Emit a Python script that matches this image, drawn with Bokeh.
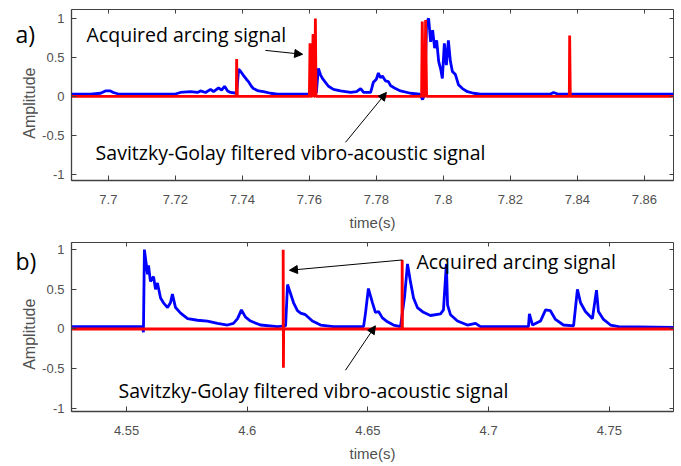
import math
from bokeh.plotting import figure
from bokeh.layouts import column, row
from bokeh.models import Range1d, FixedTicker, LinearAxis, Label, Arrow, NormalHead
from bokeh.embed import file_html
from bokeh.resources import INLINE

# ---------------- data: panel a) ----------------
a_blue_t = [7.6890, 7.6947, 7.6977, 7.6991, 7.7006, 7.7015, 7.7030, 7.7200, 7.7215, 7.7245,
            7.7266, 7.7275, 7.7290, 7.7305, 7.7314, 7.7329, 7.7338, 7.7347, 7.7356, 7.7365,
            7.7383, 7.7389, 7.7395, 7.7403, 7.7412, 7.7418, 7.7427, 7.7433, 7.7448, 7.7463,
            7.7484, 7.7505, 7.7589, 7.7609, 7.7621, 7.7627, 7.7633, 7.7639, 7.7648, 7.7657,
            7.7672, 7.7693, 7.7723, 7.7741, 7.7753, 7.7762, 7.7783, 7.7791, 7.7800, 7.7806,
            7.7812, 7.7818, 7.7827, 7.7836, 7.7842, 7.7857, 7.7872, 7.7902, 7.7929, 7.7938,
            7.7944, 7.7950, 7.7956, 7.7962, 7.7968, 7.7974, 7.7980, 7.7986, 7.7992, 7.7997,
            7.8003, 7.8009, 7.8015, 7.8021, 7.8027, 7.8036, 7.8045, 7.8057, 7.8072, 7.8090,
            7.8111, 7.8320, 7.8329, 7.8341, 7.8687]
a_blue_v = [0.03, 0.03, 0.04, 0.07, 0.07, 0.05, 0.03, 0.03, 0.05, 0.06,
            0.05, 0.07, 0.05, 0.09, 0.06, 0.11, 0.08, 0.13, 0.07, 0.05,
            0.04, 0.35, 0.32, 0.27, 0.22, 0.19, 0.13, 0.10, 0.07, 0.06,
            0.04, 0.03, 0.03, 0.03, 0.05, 0.36, 0.28, 0.23, 0.18, 0.13,
            0.09, 0.07, 0.05, 0.06, 0.10, 0.05, 0.05, 0.18, 0.22, 0.30,
            0.24, 0.26, 0.20, 0.19, 0.14, 0.10, 0.07, 0.04, 0.03, -0.04,
            0.02, 0.95, 1.00, 0.70, 0.85, 0.62, 0.72, 0.45, 0.35, 0.23,
            0.68, 0.40, 0.72, 0.45, 0.32, 0.28, 0.15, 0.10, 0.06, 0.04,
            0.03, 0.03, 0.05, 0.03, 0.03]
a_red_t = [7.6890, 7.7382, 7.7383, 7.7385, 7.7600, 7.7602, 7.7604, 7.7608, 7.7611, 7.7614,
           7.7616, 7.7618, 7.7620, 7.7935, 7.7937, 7.7940, 7.7945, 7.7947, 7.7950, 7.8376,
           7.8377, 7.8379, 7.8687]
a_red_v = [0.0, 0.0, 0.48, 0.0, 0.0, 0.68, 0.0, 0.0, 0.80, 0.0,
           0.0, 1.00, 0.0, 0.0, 0.96, 0.0, 0.0, 0.98, 0.0, 0.0,
           0.78, 0.0, 0.0]
a_ticks = [7.70, 7.72, 7.74, 7.76, 7.78, 7.80, 7.82, 7.84, 7.86]
a_tick_labels = ["7.7", "7.72", "7.74", "7.76", "7.78", "7.8", "7.82", "7.84", "7.86"]

# ---------------- data: panel b) ----------------
b_blue_t = [4.5272, 4.5566, 4.5570, 4.5574, 4.5587, 4.5591, 4.5599, 4.5612, 4.5620, 4.5628,
            4.5641, 4.5653, 4.5670, 4.5682, 4.5690, 4.5703, 4.5724, 4.5753, 4.5794, 4.5835,
            4.5877, 4.5918, 4.5943, 4.5960, 4.5976, 4.5993, 4.6014, 4.6055, 4.6125, 4.6159,
            4.6167, 4.6179, 4.6192, 4.6208, 4.6221, 4.6241, 4.6270, 4.6304, 4.6357, 4.6482,
            4.6490, 4.6502, 4.6519, 4.6531, 4.6544, 4.6560, 4.6581, 4.6606, 4.6635, 4.6652,
            4.6664, 4.6676, 4.6689, 4.6705, 4.6730, 4.6759, 4.6801, 4.6813, 4.6825, 4.6830,
            4.6842, 4.6871, 4.6912, 4.6946, 4.6966, 4.7165, 4.7169, 4.7182, 4.7215, 4.7236,
            4.7256, 4.7277, 4.7310, 4.7352, 4.7368, 4.7381, 4.7401, 4.7430, 4.7447, 4.7455,
            4.7476, 4.7505, 4.7539, 4.7766]
b_blue_v = [0.03, 0.03, -0.04, 1.00, 0.69, 0.80, 0.60, 0.66, 0.50, 0.58,
            0.39, 0.33, 0.27, 0.33, 0.44, 0.27, 0.20, 0.13, 0.11, 0.10,
            0.07, 0.05, 0.07, 0.13, 0.24, 0.15, 0.10, 0.05, 0.03, 0.04,
            0.56, 0.45, 0.33, 0.23, 0.20, 0.18, 0.10, 0.05, 0.03, 0.03,
            0.20, 0.51, 0.33, 0.21, 0.22, 0.14, 0.09, 0.05, 0.03, 0.41,
            0.82, 0.60, 0.39, 0.27, 0.21, 0.17, 0.19, 0.24, 0.82, 0.30,
            0.18, 0.10, 0.05, 0.07, 0.03, 0.03, 0.19, 0.05, 0.10, 0.24,
            0.23, 0.12, 0.05, 0.04, 0.50, 0.33, 0.22, 0.13, 0.49, 0.22,
            0.12, 0.05, 0.03, 0.02]
b_red_t = [4.5272, 4.6149, 4.6149, 4.6150, 4.6151, 4.6641, 4.6642, 4.6643, 4.7766]
b_red_v = [0.0, 0.0, 1.00, -0.49, 0.0, 0.0, 0.87, 0.0, 0.0]
b_ticks = [4.55, 4.60, 4.65, 4.70, 4.75]
b_tick_labels = ["4.55", "4.6", "4.65", "4.7", "4.75"]

y_ticks = [-1.0, -0.5, 0.0, 0.5, 1.0]
y_tick_labels = ["-1", "-0.5", "0", "0.5", "1"]

AX = "#404040"
TXT = "#505050"
ANN_FONT = "Open Sans"
SIDE_W = 38      # narrow strip on the left holding the panel tag and y title
H = 233
YTITLE_SHIFT = 33    # compensation for the observed upward drift of the rotated title


def make_panel(xr, yr, bt, bv, rt, rv, xt, xl, border_top, border_bottom):
    p = figure(width=681 - SIDE_W, height=H, x_range=Range1d(*xr), y_range=Range1d(*yr),
               output_backend="svg", toolbar_location=None,
               min_border_left=71 - SIDE_W, min_border_right=8,
               min_border_top=border_top, min_border_bottom=border_bottom)
    p.grid.visible = False
    p.outline_line_color = AX
    p.outline_line_width = 1
    p.line(bt, bv, line_color="#0000ff", line_width=2.8)
    p.line(rt, rv, line_color="#ff0000", line_width=2.8)

    p.xaxis.ticker = FixedTicker(ticks=xt)
    p.xaxis.major_label_overrides = {t: l for t, l in zip(xt, xl)}
    p.yaxis.ticker = FixedTicker(ticks=y_ticks)
    p.yaxis.major_label_overrides = {t: l for t, l in zip(y_ticks, y_tick_labels)}
    p.xaxis.axis_label = "time(s)"
    for ax in (p.xaxis[0], p.yaxis[0]):
        ax.axis_line_color = AX
        ax.axis_line_width = 1.3
        ax.major_tick_line_color = AX
        ax.major_tick_in = 5
        ax.major_tick_out = 0
        ax.minor_tick_line_color = None
        ax.minor_tick_in = 0
        ax.minor_tick_out = 0
        ax.major_label_text_font = "Liberation Sans"
        ax.major_label_text_font_size = "13px"
        ax.major_label_text_color = TXT
        ax.axis_label_text_font = "Liberation Sans"
        ax.axis_label_text_font_size = "15px"
        ax.axis_label_text_font_style = "normal"
        ax.axis_label_text_color = TXT
    p.xaxis.major_label_standoff = 14
    p.xaxis.axis_label_standoff = 7
    p.yaxis.major_label_standoff = 7

    # mirrored ticks on the box (top and right), labels not drawn
    for place, ticks in (("above", xt), ("right", y_ticks)):
        mirror = LinearAxis(ticker=FixedTicker(ticks=ticks), major_label_text_font_size="1px",
                            major_label_text_color=None, major_label_standoff=0,
                            axis_line_color=None,
                            major_tick_line_color=AX, major_tick_in=4, major_tick_out=0,
                            minor_tick_line_color=None, minor_tick_in=0, minor_tick_out=0)
        p.add_layout(mirror, place)
    return p


def make_side(tag, tag_top, frame_mid):
    # strip in pixel-like units: x 0..SIDE_W, y 0..H (measured from the bottom)
    s = figure(width=SIDE_W, height=H, x_range=Range1d(0, SIDE_W), y_range=Range1d(0, H),
               output_backend="svg", toolbar_location=None,
               x_axis_type=None, y_axis_type=None, min_border=0)
    s.grid.visible = False
    s.outline_line_color = None
    s.add_layout(Label(x=15, y=H - tag_top, text=tag, text_font=ANN_FONT,
                       text_font_size="23px", text_baseline="middle", text_align="left",
                       text_color="black"))
    s.add_layout(Label(x=29, y=H - frame_mid - YTITLE_SHIFT, text="Amplitude",
                       angle=math.pi / 2,
                       text_font="Liberation Sans", text_font_size="16px",
                       text_baseline="middle", text_align="center", text_color=TXT))
    return s


pa = make_panel((7.689, 7.8687), (-1.08, 1.115), a_blue_t, a_blue_v, a_red_t, a_red_v,
                a_ticks, a_tick_labels, 9, 53)
pb = make_panel((4.5272, 4.7766), (-1.04, 1.09), b_blue_t, b_blue_v, b_red_t, b_red_v,
                b_ticks, b_tick_labels, 9, 55)
sa = make_side("a)", 34, 94.5)
sb = make_side("b)", 26, 93.5)


def ann(p, x, y, text, size="19.5px"):
    p.add_layout(Label(x=x, y=y, text=text, text_font=ANN_FONT, text_font_size=size,
                       text_baseline="middle", text_align="left", text_color="black"))


def arrow(p, x0, y0, x1, y1):
    p.add_layout(Arrow(end=NormalHead(size=8, fill_color="black", line_color="black"),
                       x_start=x0, y_start=y0, x_end=x1, y_end=y1,
                       line_color="black", line_width=1))


ann(pa, 7.6935, 0.795, "Acquired arcing signal")
ann(pa, 7.6962, -0.72, "Savitzky-Golay filtered vibro-acoustic signal")
arrow(pa, 7.7469, 0.59, 7.7580, 0.54)
arrow(pa, 7.7708, -0.59, 7.7830, 0.05)

ann(pb, 4.6701, 0.85, "Acquired arcing signal")
ann(pb, 4.5467, -0.77, "Savitzky-Golay filtered vibro-acoustic signal")
arrow(pb, 4.6643, 0.87, 4.6175, 0.74)
arrow(pb, 4.6407, -0.52, 4.6531, 0.04)

layout = column(row(sa, pa, spacing=0), row(sb, pb, spacing=0), spacing=0)
open("out.html", "w").write(file_html(layout, INLINE))
